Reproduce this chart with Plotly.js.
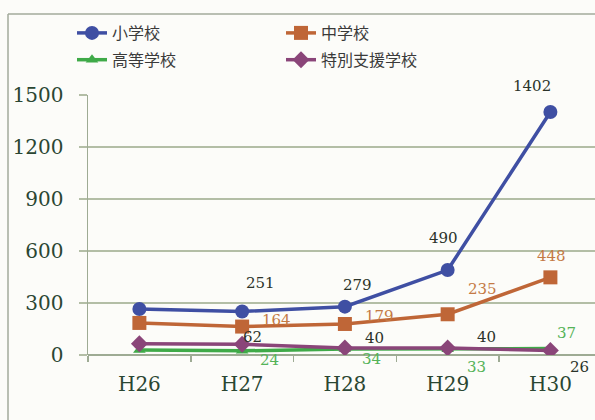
<!DOCTYPE html>
<html>
<head>
<meta charset="utf-8">
<script src="https://cdn.plot.ly/plotly-3.0.1.min.js"></script>
<style>
html,body{margin:0;padding:0;background:#fcfcf9;}
#chart{width:595px;height:420px;}
</style>
</head>
<body>
<div id="chart"></div>
<script>
// ---- data ----
var years = ["H26", "H27", "H28", "H29", "H30"];
var elementary = [265, 251, 279, 490, 1402];   // 小学校
var juniorHigh = [185, 164, 179, 235, 448];    // 中学校
var highSchool = [29, 24, 34, 33, 37];         // 高等学校
var special = [65, 62, 40, 40, 26];            // 特別支援学校
var seriesNames = ["小学校", "中学校", "高等学校", "特別支援学校"];
var yTicks = [0, 300, 600, 900, 1200, 1500];

// ---- styling ----
var lineColors = ["#3f4fa3", "#bf6637", "#3faa48", "#8a4579"];
var labelColors = ["#2b3329", "#c47a45", "#55b358", "#2b3329"];
var symbols = ["circle", "square", "triangle-up", "diamond"];
var msizes = [14, 14, 11, 13];
var legendOf = ["legend", "legend2", "legend", "legend2"];
// label offsets [dx, dy] (px, dy downward) for H27..H30
var offsets = [
  [[18, -28], [13, -22], [-4, -32], [-18, -26]],
  [[34, -7], [35, -8], [35, -25], [1, -21]],
  [[27, 9], [27, 10], [29, 18], [16, -16]],
  [[10, -7], [30, -10], [39, -11], [29, 17]]
];
var allSeries = [elementary, juniorHigh, highSchool, special];

var traces = allSeries.map(function (vals, k) {
  return {
    type: "scatter", mode: "lines+markers",
    x: years, y: vals, name: seriesNames[k],
    legend: legendOf[k], legendgroup: "g" + k,
    line: {color: lineColors[k], width: 3.5},
    marker: {symbol: symbols[k], size: msizes[k], color: lineColors[k]},
    hoverinfo: "x+y+name"
  };
});

var annotations = [];
allSeries.forEach(function (vals, k) {
  for (var i = 1; i < vals.length; i++) {
    var o = offsets[k][i - 1];
    annotations.push({
      x: years[i], y: vals[i], xref: "x", yref: "y",
      text: String(vals[i]), showarrow: false,
      xshift: o[0], yshift: -o[1],
      font: {family: "DejaVu Serif", size: 15, color: labelColors[k]}
    });
  }
});

var W = 507, H = 260; // plot area size in px
function px2x(p) { return (p - 88) / W; }
function py2y(p) { return (355 - p) / H; }

var layout = {
  width: 595, height: 420,
  margin: {l: 88, r: 0, t: 95, b: 65},
  paper_bgcolor: "#fcfcf9", plot_bgcolor: "#fcfcf9",
  showlegend: true,
  xaxis: {
    type: "category", range: [-0.5, 4.434],
    showgrid: false, zeroline: false,
    showline: false,
    ticks: "outside", tickson: "boundaries", ticklen: 6, tickwidth: 1.5, tickcolor: "#9eab94",
    ticklabelstandoff: 15,
    tickfont: {family: "DejaVu Serif", size: 20, color: "#2a4632"}
  },
  yaxis: {
    range: [0, 1500], tickvals: yTicks, ticktext: yTicks.map(String),
    showgrid: true, gridcolor: "#b3bea6", gridwidth: 1.5,
    zeroline: true, zerolinecolor: "#9eab94", zerolinewidth: 1.5,
    showline: true, linecolor: "#9eab94", linewidth: 1.5,
    ticks: "outside", ticklen: 8, tickwidth: 1.5, tickcolor: "#b3bea6",
    ticklabelstandoff: 11,
    tickfont: {family: "DejaVu Serif", size: 20, color: "#2a4632"}
  },
  legend: {
    x: px2x(72), y: py2y(16), xanchor: "left", yanchor: "top",
    orientation: "v", bgcolor: "rgba(0,0,0,0)", tracegroupgap: 3,
    font: {family: "Noto Sans CJK JP", size: 16, color: "#3a3a3a"}
  },
  legend2: {
    x: px2x(281), y: py2y(16), xanchor: "left", yanchor: "top",
    orientation: "v", bgcolor: "rgba(0,0,0,0)", tracegroupgap: 3,
    font: {family: "Noto Sans CJK JP", size: 16, color: "#3a3a3a"}
  },
  annotations: annotations,
  shapes: [
    {type: "line", xref: "paper", yref: "paper", x0: px2x(8), x1: px2x(8), y0: py2y(14), y1: py2y(420),
     line: {color: "#a3ab9b", width: 1.5}},
    {type: "line", xref: "paper", yref: "paper", x0: px2x(8), x1: px2x(595), y0: py2y(14), y1: py2y(14),
     line: {color: "#a3ab9b", width: 1.5}}
  ]
};

Plotly.newPlot("chart", traces, layout, {displayModeBar: false, staticPlot: true});
</script>
</body>
</html>
